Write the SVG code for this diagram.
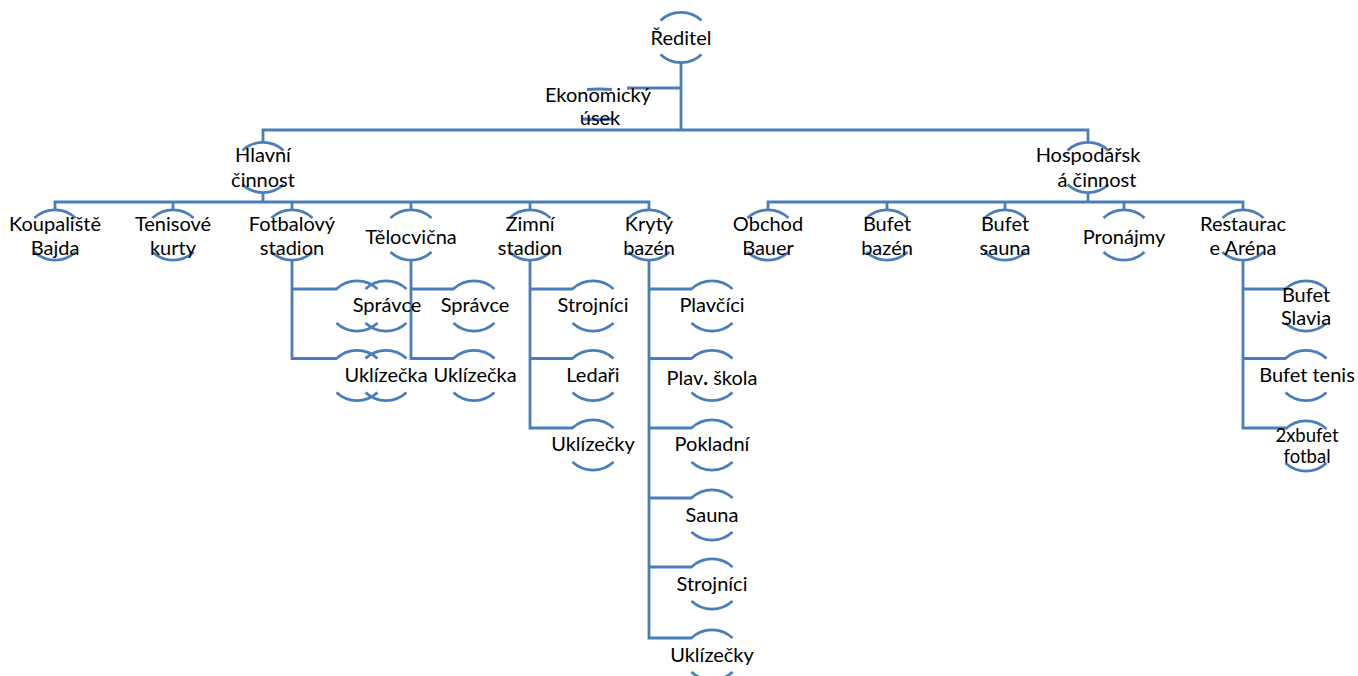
<svg xmlns="http://www.w3.org/2000/svg" xmlns:xlink="http://www.w3.org/1999/xlink" width="1358" height="676" viewBox="0 0 1358 676">
<style>
.c{fill:none;stroke:#4a7ebb;stroke-width:2.8;stroke-linejoin:miter;stroke-linecap:butt}
.a{fill:none;stroke:#4a7ebb;stroke-width:2.8}
.t{font-family:Lato,"Liberation Sans",sans-serif;font-size:20px;fill:#000;text-anchor:middle}
.s{font-size:18.5px}
</style>
<defs>
<g id="hc">
<path class="a" d="M-20.5,-17 A30,30 0 0 1 20.5,-17"/>
<path class="a" d="M-20.5,17 A30,30 0 0 0 20.5,17"/>
</g>
</defs>
<rect width="1358" height="676" fill="#fff"/>
<g id="connectors" class="c">
<path d="M681,62V130"/>
<path d="M627,88H681"/>
<path d="M263,143V130H1088V143"/>
<path d="M263,192V202M55,210V202H649V210M173,202V210M292,202V210M411,202V210M530,202V210"/>
<path d="M1088,192V202M768,210V202H1243V210M887,202V210M1005,202V210M1124,202V210"/>
<path d="M292,260V358.5H337M292,289H337"/>
<path d="M411,260V358.5H454M411,289H454"/>
<path d="M530,260V428H573M530,289H573M530,358.5H573"/>
<path d="M649,260V638H692M649,289H692M649,358.5H692M649,428H692M649,498H692M649,567H692"/>
<path d="M1243,260V428H1286M1243,289H1286M1243,358.5H1286"/>
</g>
<g id="n-reditel"><use href="#hc" x="681" y="37.5"/><text class="t" x="681" y="45">Ředitel</text></g>
<g id="n-ekonomicky">
<path class="a" d="M587,89.5Q599.5,88.5 612,89.5"/>
<path class="a" d="M583,119Q597.5,120 612,119"/>
<text class="t" x="598" y="102">Ekonomický</text><text class="t" x="600" y="125">úsek</text></g>
<g id="n-hlavni"><use href="#hc" x="263" y="167.5"/><text class="t" x="263" y="162">Hlavní</text><text class="t" x="263" y="187">činnost</text></g>
<g id="n-hospodarska"><use href="#hc" x="1088" y="167.5"/><text class="t" x="1088" y="162">Hospodářsk</text><text class="t" x="1097" y="187">á činnost</text></g>
<g id="n-koupaliste"><use href="#hc" x="55" y="235"/><text class="t" x="55" y="231">Koupaliště</text><text class="t" x="55" y="255">Bajda</text></g>
<g id="n-tenisove"><use href="#hc" x="173" y="235"/><text class="t" x="173" y="231">Tenisové</text><text class="t" x="173" y="255">kurty</text></g>
<g id="n-fotbalovy"><use href="#hc" x="292" y="235"/><text class="t" x="292" y="231">Fotbalový</text><text class="t" x="292" y="255">stadion</text></g>
<g id="n-telocvicna"><use href="#hc" x="411" y="235"/><text class="t" x="411" y="244">Tělocvična</text></g>
<g id="n-zimni"><use href="#hc" x="530" y="235"/><text class="t" x="530" y="231">Zimní</text><text class="t" x="530" y="255">stadion</text></g>
<g id="n-kryty"><use href="#hc" x="649" y="235"/><text class="t" x="649" y="231">Krytý</text><text class="t" x="649" y="255">bazén</text></g>
<g id="n-obchod"><use href="#hc" x="768" y="235"/><text class="t" x="768" y="231">Obchod</text><text class="t" x="768" y="255">Bauer</text></g>
<g id="n-bufet-bazen"><use href="#hc" x="887" y="235"/><text class="t" x="887" y="231">Bufet</text><text class="t" x="887" y="255">bazén</text></g>
<g id="n-bufet-sauna"><use href="#hc" x="1005" y="235"/><text class="t" x="1005" y="231">Bufet</text><text class="t" x="1005" y="255">sauna</text></g>
<g id="n-pronajmy"><use href="#hc" x="1124" y="235"/><text class="t" x="1124" y="244">Pronájmy</text></g>
<g id="n-restaurace"><use href="#hc" x="1243" y="235"/><text class="t" x="1243" y="231">Restaurac</text><text class="t" x="1243" y="255">e Aréna</text></g>
<g id="n-f-spravce"><use href="#hc" x="357" y="306"/><use href="#hc" x="386" y="306"/><text class="t" x="387" y="312">Správce</text></g>
<g id="n-f-uklizecka"><use href="#hc" x="357" y="375.5"/><use href="#hc" x="386" y="375.5"/><text class="t" x="386" y="382">Uklízečka</text></g>
<g id="n-t-spravce"><use href="#hc" x="474" y="306"/><text class="t" x="475" y="312">Správce</text></g>
<g id="n-t-uklizecka"><use href="#hc" x="474" y="375.5"/><text class="t" x="475" y="382">Uklízečka</text></g>
<g id="n-z-strojnici"><use href="#hc" x="593" y="306"/><text class="t" x="593" y="312">Strojníci</text></g>
<g id="n-z-ledari"><use href="#hc" x="593" y="375.5"/><text class="t" x="593" y="382">Ledaři</text></g>
<g id="n-z-uklizecky"><use href="#hc" x="593" y="445"/><text class="t" x="593" y="451">Uklízečky</text></g>
<g id="n-k-plavcici"><use href="#hc" x="712" y="306"/><text class="t" x="712" y="312">Plavčíci</text></g>
<g id="n-k-skola"><use href="#hc" x="712" y="375.5"/><text class="t" x="712" y="385">Plav<tspan font-weight="bold">.</tspan> škola</text></g>
<g id="n-k-pokladni"><use href="#hc" x="712" y="445"/><text class="t" x="712" y="451">Pokladní</text></g>
<g id="n-k-sauna"><use href="#hc" x="712" y="515"/><text class="t" x="712" y="522">Sauna</text></g>
<g id="n-k-strojnici"><use href="#hc" x="712" y="584"/><text class="t" x="712" y="591">Strojníci</text></g>
<g id="n-k-uklizecky"><use href="#hc" x="712" y="655"/><text class="t" x="712" y="662">Uklízečky</text></g>
<g id="n-r-slavia"><use href="#hc" x="1306" y="306"/><text class="t" x="1306" y="302">Bufet</text><text class="t" x="1306" y="325">Slavia</text></g>
<g id="n-r-tenis"><use href="#hc" x="1306" y="375.5"/><text class="t" x="1307" y="382">Bufet tenis</text></g>
<g id="n-r-fotbal"><use href="#hc" x="1306" y="446" style="stroke-width:3.6"/><text class="t s" x="1307" y="442">2xbufet</text><text class="t s" x="1307" y="463">fotbal</text></g>
</svg>
